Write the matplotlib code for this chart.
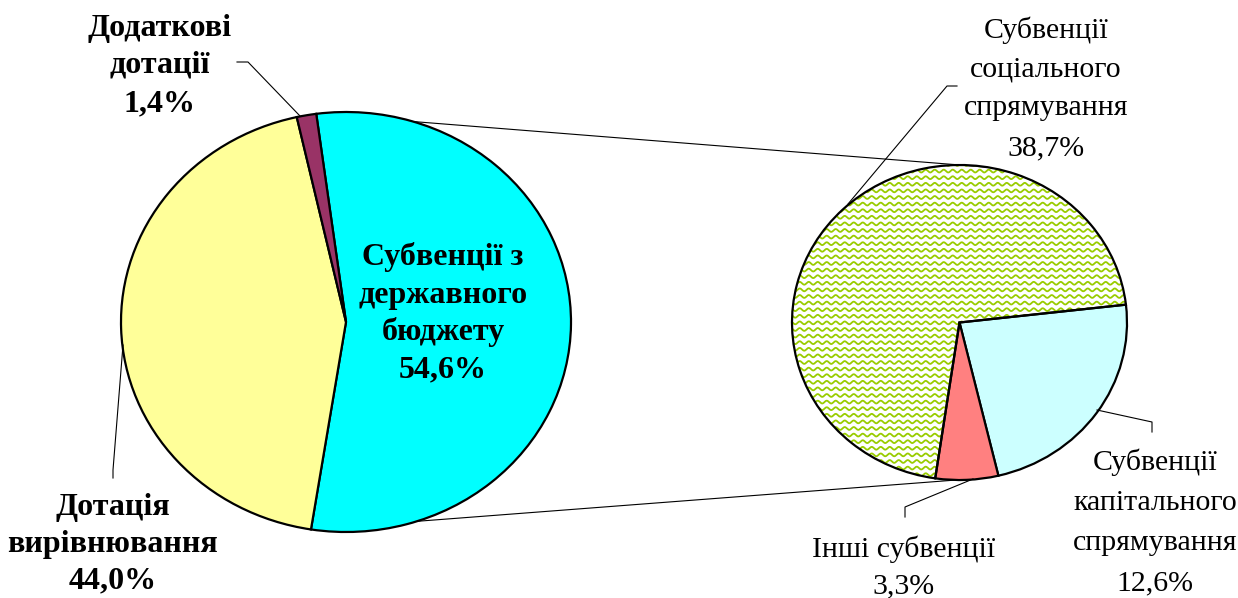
import numpy as np
import matplotlib
matplotlib.use("Agg")
import matplotlib.pyplot as plt
from matplotlib.patches import ConnectionPatch
from matplotlib.path import Path
from matplotlib.patches import PathPatch

# ---- data ----
main_labels = ["Субвенції з державного бюджету", "Дотація вирівнювання", "Додаткові дотації"]
main_values = [54.6, 44.0, 1.4]
main_colors = ["#00FFFF", "#FFFF99", "#993366"]

sub_labels = ["Субвенції капітального спрямування", "Інші субвенції",
              "Субвенції соціального спрямування"]
sub_values = [12.6, 3.3, 38.7]
sub_colors = ["#CCFFFF", "#FF8080", "none"]

W, H = 1238, 598
fig = plt.figure(figsize=(W / 100, H / 100), dpi=100)
fig.patch.set_facecolor("white")


def px_axes(x0, y0, x1, y1):
    return fig.add_axes([x0 / W, 1 - y1 / H, (x1 - x0) / W, (y1 - y0) / H])


ax1 = px_axes(121, 112, 571, 532)
ax2 = px_axes(792, 165, 1127, 480)

ep = dict(edgecolor="black", linewidth=1.6)
w1, _ = ax1.pie(main_values, colors=main_colors, startangle=97.6,
                counterclock=False, wedgeprops=ep)
w2, _ = ax2.pie(sub_values, colors=sub_colors, startangle=6.5,
                counterclock=False, wedgeprops=ep)
for ax, ws in ((ax1, w1), (ax2, w2)):
    ax.set_aspect("auto")
    ax.set_xlim(-1, 1)
    ax.set_ylim(-1, 1)
    ax.axis("off")
    for w in ws:
        w.set_clip_on(False)
        w.set_zorder(2)

# wavy pattern fill for the social slice
soc = w2[2]
xpu = 335 / 2.0  # px per unit
ypu = 315 / 2.0
period = 9.0 / xpu
amp = 1.4 / ypu
step = 6.6 / ypu
xs = np.linspace(-1.05, 1.05, 1200)
verts, codes = [], []
for y0 in np.arange(-1.05, 1.05, step):
    ys = y0 + amp * np.sin(2 * np.pi * xs / period)
    pts = np.column_stack([xs, ys])
    verts.extend(pts.tolist())
    codes.extend([Path.MOVETO] + [Path.LINETO] * (len(pts) - 1))
wave = PathPatch(Path(verts, codes), facecolor="none", edgecolor="#99CC00",
                 linewidth=1.3, zorder=1)
ax2.add_patch(wave)
wave.set_clip_path(soc)

# connector lines between the pies
cyan = w1[0]
a_top = np.deg2rad(max(cyan.theta1, cyan.theta2))
a_bot = np.deg2rad(min(cyan.theta1, cyan.theta2))
for a1, a2 in ((a_top, np.deg2rad(80.5)), (a_bot, np.deg2rad(-91.0))):
    cp = ConnectionPatch(xyA=(np.cos(a1), np.sin(a1)), coordsA=ax1.transData,
                         xyB=(np.cos(a2), np.sin(a2)), coordsB=ax2.transData,
                         color="black", linewidth=0.8, zorder=0)
    fig.add_artist(cp)

# overlay for labels / leader lines (pixel coordinates)
ao = fig.add_axes([0, 0, 1, 1])
ao.set_xlim(0, W)
ao.set_ylim(H, 0)
ao.axis("off")
ao.patch.set_visible(False)

lk = dict(color="black", linewidth=0.8)
ao.plot([237, 248, 300], [62, 62, 116], **lk)
ao.plot([123, 113, 113], [345, 470, 478], **lk)
ao.plot([957, 947, 848], [86, 86, 204], **lk)
ao.plot([1097, 1152, 1152], [410, 422, 432], **lk)
ao.plot([973, 905, 905], [479, 507, 517], **lk)


def fmt(v):
    return f"{v:.1f}%".replace(".", ",")


bold = dict(family="Liberation Serif", fontweight="bold", fontsize=23,
            ha="center", va="baseline")
reg = dict(family="Liberation Serif", fontsize=21.5, ha="center", va="baseline")


def label(lines, x, baselines, style):
    for t, y in zip(lines, baselines):
        ao.text(x, y, t, **style)


label(["Субвенції з", "державного", "бюджету", fmt(main_values[0])],
      443, [265, 303, 340, 377], bold)
label(["Дотація", "вирівнювання", fmt(main_values[1])],
      113, [515, 552, 588], bold)
label(["Додаткові", "дотації", fmt(main_values[2])],
      160, [36, 73, 111], bold)

label(["Субвенції", "соціального", "спрямування", fmt(sub_values[2])],
      1046, [38, 77, 115, 155], reg)
label(["Субвенції", "капітального", "спрямування", fmt(sub_values[0])],
      1155, [470, 510, 550, 590], reg)
label(["Інші субвенції", fmt(sub_values[1])],
      904, [557, 593], reg)

fig.savefig("out.png", dpi=100)
